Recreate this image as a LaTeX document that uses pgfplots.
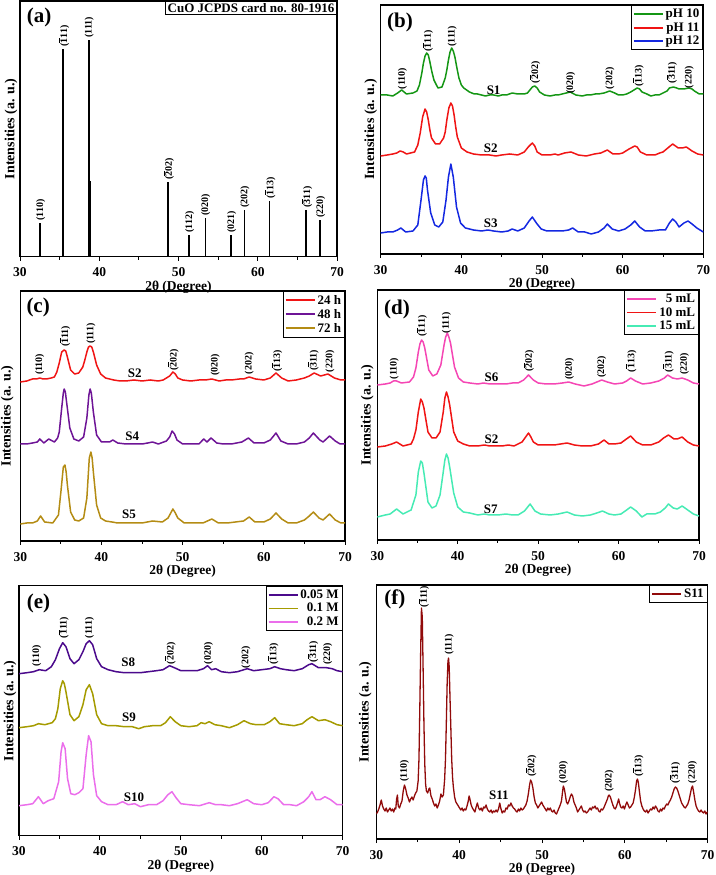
\documentclass[border=0pt]{standalone}
\usepackage{pgfplots}
\pgfplotsset{compat=1.18}
\usepackage{fontspec}
\setmainfont{Liberation Serif}

\definecolor{cgreen}{RGB}{20,150,20}
\definecolor{cred}{RGB}{240,20,20}
\definecolor{cblue}{RGB}{20,40,225}
\definecolor{cpurple}{RGB}{110,20,150}
\definecolor{cgold}{RGB}{180,140,20}
\definecolor{cpink}{RGB}{245,70,180}
\definecolor{cmint}{RGB}{70,235,180}
\definecolor{cindigo}{RGB}{75,10,140}
\definecolor{colive}{RGB}{165,155,0}
\definecolor{cviolet}{RGB}{235,110,235}
\definecolor{cdark}{RGB}{145,10,10}

\newcommand\tk{\fontsize{13.5}{15}\selectfont\bfseries}
\newcommand\lk{\fontsize{13}{15}\selectfont\bfseries}
\newcommand\pk{\fontsize{10}{12}\selectfont\bfseries}
\newcommand\ob[1]{$\overline{\mbox{#1}}$}
% peak label, sample label, panel letter
\newcommand\pl[3]{\node[rotate=90,anchor=west,inner sep=0pt,font=\pk] at (axis cs:#1,#2) {#3};}
\newcommand\slab[3]{\node[font=\lk,inner sep=0pt] at (axis cs:#1,#2) {#3};}
\newcommand\panel[3]{\node[font=\fontsize{21}{21}\selectfont\bfseries,inner sep=0pt] at (axis description cs:#1,#2) {#3};}

\pgfplotsset{
  xrd/.style={
    scale only axis, anchor=south west,
    xmin=30, xmax=70, ymin=0,
    xtick={30,40,50,60,70}, minor xtick={35,45,55,65},
    ytick=\empty, xtick pos=bottom, tick align=outside,
    major tick length=4pt, minor tick length=3pt,
    tick style={black, line width=0.9pt},
    axis line style={line width=1.1pt},
    /pgf/number format/assume math mode=true,
    xticklabel style={font=\tk, anchor=north, inner sep=0pt, yshift=-7pt},
    xlabel={2θ (Degree)}, ylabel={Intensities (a. u.)},
    xlabel style={font=\tk, at={(axis description cs:0.5,0)}, anchor=north, inner sep=0pt, yshift=-24pt},
    ylabel style={font=\fontsize{14}{15}\selectfont\bfseries, anchor=center, inner sep=0pt},
    legend style={at={(1,1)}, anchor=north east, draw=black, line width=1pt, font=\lk, inner sep=1.5pt, row sep=-0.5pt},
    legend cell align=right,
    legend image code/.code={\draw[##1, line width=1.8pt] (0pt,0pt) -- (29pt,0pt);},
    every axis plot/.append style={line width=1.5pt, line join=round},
  }
}

\begin{document}
\begin{tikzpicture}
\useasboundingbox (0,0) rectangle (715pt,875pt);

% (a) reference pattern
\begin{axis}[xrd, at={(20pt,618.3pt)}, width=317pt, height=255.7pt, ymax=255.7,
  ylabel style={at={(axis description cs:-0.028,0.5)}}]
\addplot[ycomb, black, line width=1.8pt] coordinates {(32.52,34)(35.46,208)(38.70,217)(38.9,76)(48.70,75)(51.34,22)(53.40,39)(56.64,22)(58.32,47)(61.47,56)(66.13,47)(67.90,37)};
\pl{32.6}{36}{(110)}
\pl{35.55}{210}{(\ob{1}11)}
\pl{38.75}{219}{(111)}
\pl{48.75}{77}{(\ob{2}02)}
\pl{51.4}{24}{(112)}
\pl{53.45}{41}{(020)}
\pl{56.7}{24}{(021)}
\pl{58.4}{49}{(202)}
\pl{61.55}{58}{(\ob{1}13)}
\pl{66.2}{49}{(\ob{3}11)}
\pl{67.95}{39}{(220)}
\node[draw, line width=1pt, font=\lk, anchor=north east, inner sep=2pt] at (rel axis cs:1,1) {CuO JCPDS card no. 80-1916};
\panel{0.06}{0.937}{(a)}
\end{axis}

% (b) pH
\begin{axis}[xrd, at={(380.7pt,621pt)}, width=322.6pt, height=249pt, ymax=249,
  ylabel style={at={(axis description cs:-0.031,0.5)}}]
\addplot[cgreen] coordinates {(30,159)(30.8,159)(31.5,158)(32.1,161)(32.6,164)(33.2,160)(34,161)(34.5,163)(34.8,169)(35.1,181)(35.3,191)(35.5,198)(35.7,201)(35.9,199)(36.1,192)(36.35,182)(36.6,174)(37.1,166)(37.6,167)(38,176)(38.2,184)(38.4,194)(38.6,202)(38.8,206)(39,203)(39.2,197)(39.45,186)(39.7,176)(40,169)(40.3,166)(41,162)(41.6,160)(42,160)(42.5,159)(43,158)(43.5,159)(44,159)(44.6,158)(45,159)(45.6,159)(46.3,161)(47,160)(47.8,160)(48.2,161)(48.5,164)(48.8,167)(49.1,168)(49.4,166)(49.7,162)(50.3,159)(51,158)(51.6,159)(52,159)(52.5,160)(53,161)(53.5,162)(54.2,159)(55,158)(55.5,159)(56,159)(56.6,160)(57,160)(57.7,161)(58.4,163)(59,161)(59.5,159)(60,159)(60.5,160)(61,162)(61.4,164)(61.8,166)(62.1,165)(62.4,162)(63,160)(63.5,158)(64,159)(64.5,159)(65,161)(65.5,163)(65.8,166)(66.3,167)(66.7,166)(67,165)(67.6,165)(68.2,166)(68.6,165)(68.9,163)(69.5,160)(70,160)};
\addplot[cred] coordinates {(30,98)(30.8,99)(31.5,100)(32,101)(32.4,103)(32.8,102)(33.2,100)(33.7,101)(34.2,102)(34.6,109)(34.9,121)(35.2,137)(35.5,145)(35.7,142)(35.9,134)(36.1,124)(36.3,116)(36.8,110)(37.3,110)(37.8,116)(38,122)(38.2,134)(38.45,146)(38.7,151)(38.9,148)(39.1,139)(39.3,127)(39.5,117)(40,106)(40.7,102)(41.5,100)(42.5,99)(43.5,99)(44.3,98)(45,99)(46,100)(47,99)(47.8,102)(48.3,107)(48.8,111)(49.1,108)(49.4,102)(50,99)(51,99)(51.6,100)(52,99)(52.8,101)(53.6,102)(54.5,99)(55.5,98)(56.5,100)(57.3,101)(58.1,104)(58.8,100)(59.5,100)(60,101)(60.8,105)(61.5,108)(61.8,107)(62.2,102)(63,99)(64,99)(64.6,101)(65,102)(65.6,106)(66.2,110)(66.9,106)(67.4,106)(67.9,107)(68.6,103)(69.3,100)(70,99)};
\addplot[cblue] coordinates {(30,21)(30.8,22)(31.5,22)(32.1,24)(32.5,26)(33.1,22)(34,23)(34.6,29)(35,54)(35.3,74)(35.5,78)(35.65,76)(35.8,64)(36.2,41)(36.7,29)(37.2,27)(37.7,32)(38.1,54)(38.4,77)(38.7,90)(39,77)(39.4,47)(39.9,31)(40.5,26)(41.5,24)(42.5,23)(43.3,24)(44,23)(45,22)(45.8,23)(46.3,25)(47,23)(47.8,26)(48.4,33)(48.8,37)(49.3,31)(49.9,25)(50.6,23)(51.5,23)(52.5,23)(53.3,24)(53.8,26)(54.5,22)(55.3,22)(56.1,20)(57,22)(57.7,26)(58.1,30)(58.7,25)(59.5,23)(60.3,25)(61,29)(61.5,33)(62.1,27)(62.8,23)(63.5,23)(64.5,24)(65.3,24)(65.8,31)(66.2,35)(66.6,32)(67,27)(67.6,31)(68.1,33)(68.6,30)(69.2,26)(70,22)};
\legend{pH 10, pH 11, pH 12}
\pl{32.7}{164.7}{(110)}
\pl{35.83}{202.3}{(\ob{1}11)}
\pl{38.88}{207.3}{(111)}
\pl{49.13}{170.7}{(\ob{2}02)}
\pl{53.55}{160}{(020)}
\pl{58.43}{164.7}{(202)}
\pl{61.94}{167.3}{(\ob{1}13)}
\pl{66.07}{170.7}{(\ob{3}11)}
\pl{68.26}{165.7}{(220)}
\slab{44.0}{163.5}{S1}
\slab{43.64}{105.7}{S2}
\slab{43.64}{30.7}{S3}
\panel{0.06}{0.93}{(b)}
\end{axis}

% (c) time
\begin{axis}[xrd, at={(20.3pt,334pt)}, width=324.7pt, height=250pt, ymax=250,
  ylabel style={at={(axis description cs:-0.04,0.5)}}]
\addplot[cred] coordinates {(30,159)(30.8,160)(31.5,162)(32,162)(32.4,163)(32.8,162)(33.2,162)(33.8,163)(34.2,164)(34.5,169)(34.8,178)(35.1,189)(35.4,191)(35.6,190)(35.8,184)(36.2,171)(36.7,167)(37.2,168)(37.7,174)(37.95,181)(38.2,189)(38.4,194)(38.6,195)(38.8,194)(39,189)(39.4,176)(39.9,167)(40.5,163)(41.5,161)(42.3,160)(43,160)(44,161)(45,160)(46,161)(47,160)(47.6,161)(48,163)(48.4,165)(48.8,169)(49.1,167)(49.4,163)(50,161)(51,160)(52,161)(52.8,161)(53.6,162)(54.5,160)(55.3,161)(56,161)(57,162)(57.5,162)(58.2,164)(59,162)(60,161)(60.8,163)(61.5,168)(62.2,163)(63,160)(64,161)(65,163)(65.6,165)(66.2,168)(67,165)(67.9,167)(68.7,163)(69.5,161)(70,161)};
\addplot[cpurple] coordinates {(30,97)(30.8,97)(31.5,98)(32.1,99)(32.4,102)(32.9,98)(33.5,102)(34.2,99)(34.6,103)(34.8,109)(35.1,133)(35.3,148)(35.4,152)(35.55,149)(35.7,139)(36.1,113)(36.6,102)(37.2,100)(37.8,104)(38.2,123)(38.45,146)(38.6,152)(38.75,148)(39,129)(39.4,106)(40,99)(41,99)(41.4,101)(42,98)(43,97)(44,97)(45,97)(45.7,98)(46.3,99)(47,97)(48,100)(48.4,104)(48.7,110)(49,107)(49.3,101)(50,97)(51,97)(52,97)(52.6,102)(53,99)(53.5,103)(54.2,98)(55,97)(56,97)(57.3,99)(58.1,103)(58.8,98)(60,98)(60.8,101)(61.5,108)(62.1,100)(63,97)(64,97)(65,99)(65.6,103)(66.1,108)(66.9,101)(67.3,99)(68.1,105)(68.8,100)(69.4,97)(70,97)};
\addplot[cgold] coordinates {(30,17)(30.8,18)(31.5,18)(32.1,20)(32.5,25)(33,19)(34,18)(34.7,26)(35,49)(35.3,74)(35.5,76)(35.65,69)(35.8,56)(36.2,29)(36.7,21)(37.2,20)(37.8,23)(38.2,43)(38.5,83)(38.7,89)(38.85,83)(39,69)(39.4,36)(39.9,23)(40.5,20)(41.3,19)(42,18)(43,18)(44,18)(45,18)(46.3,20)(47.5,19)(48.2,23)(48.8,32)(49.1,28)(49.4,23)(50.2,18)(51,18)(52.5,18)(53.6,22)(54.4,18)(55.5,18)(56.5,19)(57.5,20)(58.2,24)(58.9,19)(60,19)(60.8,22)(61.5,28)(62.2,22)(63,18)(64,18)(65,21)(65.6,25)(66.1,29)(66.8,23)(67.3,21)(68.1,27)(68.8,21)(69.5,18)(70,18)};
\legend{24 h, 48 h, 72 h}
\pl{32.4}{166}{(110)}
\pl{35.5}{194}{(\ob{1}11)}
\pl{38.7}{197}{(111)}
\pl{48.85}{170}{(\ob{2}02)}
\pl{54.0}{165.3}{(020)}
\pl{58.2}{166.7}{(202)}
\pl{61.6}{169.3}{(\ob{1}13)}
\pl{66.1}{170}{(\ob{3}11)}
\pl{68.15}{168.7}{(220)}
\slab{44.1}{167.7}{S2}
\slab{43.8}{104.3}{S4}
\slab{43.4}{26.7}{S5}
\panel{0.055}{0.935}{(c)}
\end{axis}

% (d) volume
\begin{axis}[xrd, at={(377.3pt,335pt)}, width=321.7pt, height=250pt, ymax=250,
  ylabel style={at={(axis description cs:-0.031,0.5)}}]
\addplot[cpink] coordinates {(30,155)(31,156)(31.6,157)(32,159)(32.4,159)(33,157)(34,158)(34.5,163)(34.8,172)(35.1,188)(35.3,196)(35.5,200)(35.7,198)(35.9,192)(36.4,170)(36.9,164)(37.4,166)(37.9,175)(38.3,195)(38.5,203)(38.7,207)(38.9,203)(39.1,197)(39.6,173)(40.1,162)(40.7,158)(41.5,157)(42.5,156)(43.2,157)(44,156)(45,156)(46,156)(46.8,157)(47.5,157)(48.2,160)(48.8,165)(49.4,160)(50,157)(51,156)(52,156)(53,157)(53.8,158)(54.6,156)(55.7,154)(56.7,156)(57.3,158)(57.9,160)(58.6,158)(59.5,156)(60.5,157)(61,159)(61.5,162)(62.1,159)(63,156)(64,157)(65,159)(65.7,162)(66.1,165)(66.7,162)(67.3,161)(67.9,162)(68.6,160)(69.3,157)(70,156)};
\addplot[cred] coordinates {(30,93)(31,94)(31.8,96)(32.4,98)(33.2,94)(34.2,96)(34.5,101)(34.8,110)(35.1,128)(35.4,141)(35.6,138)(35.8,132)(36.3,108)(36.8,102)(37.3,102)(37.8,108)(38.2,128)(38.4,142)(38.6,148)(38.8,143)(39,135)(39.5,108)(40,99)(40.7,96)(41.5,94)(42.5,94)(43.3,95)(44,94)(45.5,94)(46.3,95)(47,94)(48,98)(48.8,107)(49.1,103)(49.4,98)(50,95)(51,95)(52,95)(52.8,96)(53.6,97)(54.5,95)(55.5,94)(56.5,94)(57.5,96)(58.2,100)(58.8,96)(59.5,96)(60.3,97)(60.8,100)(61.5,104)(62.2,98)(63,95)(64,95)(65,98)(65.6,102)(66.2,105)(66.9,101)(67.3,101)(67.9,103)(68.6,98)(69.3,95)(70,94)};
\addplot[cmint] coordinates {(30,23)(31,25)(31.6,26)(32.4,31)(33.2,26)(34.2,30)(34.8,45)(35.1,68)(35.4,79)(35.6,77)(35.8,67)(36.3,38)(36.8,32)(37.3,34)(37.8,45)(38.2,68)(38.4,80)(38.6,86)(38.8,82)(39,73)(39.5,47)(40,33)(40.7,28)(41.5,27)(42.5,25)(43.3,26)(44,25)(45,25)(46,26)(46.8,25)(47.5,25)(48.3,29)(49,36)(49.6,29)(50.3,26)(51.5,25)(52.5,26)(53.6,28)(54.5,25)(55.5,24)(56.5,25)(57.3,27)(58,29)(58.8,26)(59.5,25)(60.3,26)(61,30)(61.5,33)(62.2,29)(62.9,23)(63.5,26)(64.5,26)(65.2,28)(65.8,32)(66.2,36)(66.8,32)(67.3,31)(67.9,34)(68.6,30)(69.3,26)(70,24)};
\legend{5 mL, 10 mL, 15 mL}
\pl{32.1}{160.7}{(110)}
\pl{35.5}{203.3}{(\ob{1}11)}
\pl{38.6}{206.7}{(111)}
\pl{48.8}{168.3}{(\ob{2}02)}
\pl{53.9}{160}{(020)}
\pl{57.9}{162.3}{(202)}
\pl{61.55}{167.7}{(\ob{1}13)}
\pl{66.2}{167.7}{(\ob{3}11)}
\pl{68.2}{165}{(220)}
\slab{44.2}{162.7}{S6}
\slab{44.2}{101}{S2}
\slab{44.1}{30.7}{S7}
\panel{0.061}{0.924}{(d)}
\end{axis}

% (e) concentration
\begin{axis}[xrd, at={(19pt,39.3pt)}, width=323.7pt, height=250pt, ymax=250,
  ylabel style={at={(axis description cs:-0.028,0.5)}}]
\addplot[cindigo] coordinates {(30,162)(31,163)(31.8,164)(32.5,166)(33.3,165)(34,169)(34.5,176)(35,187)(35.4,193)(35.8,189)(36.3,177)(36.8,172)(37.4,176)(37.9,184)(38.3,192)(38.7,195)(39.1,191)(39.6,177)(40.2,169)(41,166)(42,164)(43,163)(44,163)(45,163)(46,164)(47,165)(47.8,166)(48.6,170)(49.2,168)(50,165)(51,165)(52,165)(52.8,167)(53.3,170)(53.8,166)(54.3,167)(55,164)(56,163)(57,164)(58.2,167)(59,165)(60,166)(61,167)(61.6,169)(62.3,167)(63,166)(64,165)(65,167)(65.8,171)(66.2,172)(67,168)(68,168)(68.7,167)(69.3,165)(70,164)};
\addplot[colive] coordinates {(30,108)(31,109)(31.8,110)(32.4,112)(33.2,111)(34.1,113)(34.5,117)(34.8,127)(35.1,147)(35.4,155)(35.6,152)(35.8,144)(36.3,121)(36.8,115)(37.4,119)(37.9,131)(38.3,146)(38.7,151)(39.1,142)(39.6,121)(40.2,112)(41,110)(42,110)(43,109)(44,109)(44.8,107)(45.5,109)(46.5,110)(47.5,110)(48.1,113)(48.7,119)(49.3,114)(50,110)(51,109)(52,110)(52.5,113)(53,112)(53.5,114)(54.2,111)(55,110)(56,108)(57,111)(57.8,115)(58.6,112)(59.3,111)(60.3,111)(61,114)(61.6,118)(62.2,112)(63,111)(64,110)(65,112)(65.6,116)(66.2,119)(67,115)(67.8,116)(68.5,114)(69.3,111)(70,110)};
\addplot[cviolet] coordinates {(30,30)(31,31)(31.7,32)(32.4,39)(33,32)(33.6,35)(34.3,37)(34.9,54)(35.2,84)(35.4,93)(35.7,87)(36,57)(36.4,42)(36.9,41)(37.4,43)(37.9,47)(38.3,81)(38.6,100)(38.9,94)(39.2,61)(39.6,40)(40.2,34)(41,31)(42,31)(42.8,34)(43.5,31)(44.3,32)(45,29)(46,31)(47,31)(47.8,35)(48.4,41)(48.9,44)(49.4,38)(50,32)(51,31)(52.3,30)(53.5,33)(54.3,31)(55,31)(56,30)(57,32)(58.2,36)(59,32)(60,31)(60.8,33)(61.5,39)(62,37)(62.7,31)(63.5,31)(64.3,30)(65.2,34)(65.8,39)(66.2,44)(66.7,36)(67.2,36)(67.8,39)(68.5,36)(69.3,31)(70,31)};
\legend{0.05 M, 0.1 M, 0.2 M}
\pl{32.2}{169}{(110)}
\pl{35.5}{197.3}{(\ob{1}11)}
\pl{38.7}{197.3}{(111)}
\pl{48.7}{171.3}{(\ob{2}02)}
\pl{53.4}{171.3}{(020)}
\pl{58.05}{167.3}{(202)}
\pl{61.4}{170.7}{(\ob{1}13)}
\pl{66.3}{173.3}{(\ob{3}11)}
\pl{68.15}{170.7}{(220)}
\slab{43.5}{173}{S8}
\slab{43.6}{118}{S9}
\slab{44.2}{38}{S10}
\panel{0.06}{0.93}{(e)}
\end{axis}

% (f) S11
\begin{axis}[xrd, at={(376.3pt,36pt)}, width=331.4pt, height=254pt, ymax=254,
  ylabel style={at={(axis description cs:-0.033,0.5)}}]
\addplot[cdark, line width=1.3pt] coordinates {(30.0,25)(30.15,27)(30.3,30)(30.45,34)(30.6,39)(30.75,33)(30.9,30)(31.05,28)(31.2,31)(31.35,27)(31.5,29)(31.65,31)(31.8,28)(31.95,30)(32.1,27)(32.25,31)(32.35,30)(32.45,40)(32.55,44)(32.65,33)(32.8,31)(32.95,35)(33.1,38)(33.25,48)(33.4,54)(33.55,50)(33.7,44)(33.85,41)(34.0,37)(34.15,40)(34.3,42)(34.45,39)(34.6,43)(34.75,46)(34.9,48)(35.05,58)(35.15,80)(35.25,130)(35.35,185)(35.45,231)(35.55,222)(35.65,170)(35.75,115)(35.85,75)(35.95,55)(36.05,48)(36.2,46)(36.35,50)(36.45,51)(36.6,43)(36.75,40)(36.9,36)(37.05,33)(37.2,35)(37.35,31)(37.5,34)(37.65,38)(37.8,45)(37.95,42)(38.1,44)(38.25,60)(38.35,80)(38.45,115)(38.55,155)(38.65,178)(38.72,181)(38.8,172)(38.9,140)(39.0,110)(39.1,80)(39.2,62)(39.3,52)(39.45,42)(39.6,37)(39.75,35)(39.9,33)(40.05,31)(40.2,29)(40.35,31)(40.5,28)(40.65,30)(40.8,29)(40.95,33)(41.1,38)(41.2,43)(41.3,40)(41.45,34)(41.6,31)(41.75,29)(41.9,27)(42.05,32)(42.2,36)(42.35,31)(42.5,29)(42.65,31)(42.8,28)(42.95,32)(43.1,31)(43.25,34)(43.4,30)(43.55,28)(43.7,27)(43.85,29)(44.0,26)(44.15,28)(44.3,27)(44.45,29)(44.6,27)(44.75,30)(44.9,36)(45.05,30)(45.2,26)(45.35,28)(45.5,27)(45.65,31)(45.8,30)(45.95,34)(46.1,33)(46.25,36)(46.4,33)(46.55,31)(46.7,30)(46.85,28)(47.0,27)(47.15,30)(47.3,28)(47.45,31)(47.6,29)(47.75,30)(47.9,32)(48.05,34)(48.2,38)(48.35,45)(48.5,54)(48.62,59)(48.75,57)(48.9,51)(49.05,42)(49.2,36)(49.35,34)(49.5,31)(49.65,33)(49.8,35)(49.95,37)(50.1,34)(50.25,32)(50.4,30)(50.55,28)(50.7,31)(50.85,29)(51.0,31)(51.15,28)(51.3,27)(51.45,29)(51.6,26)(51.75,25)(51.9,28)(52.05,31)(52.2,34)(52.35,38)(52.45,45)(52.57,53)(52.7,50)(52.8,45)(52.95,37)(53.1,35)(53.25,38)(53.4,42)(53.55,45)(53.7,43)(53.85,37)(54.0,34)(54.15,31)(54.3,27)(54.45,29)(54.6,31)(54.75,33)(54.9,29)(55.05,27)(55.2,28)(55.35,26)(55.5,27)(55.65,29)(55.8,31)(55.95,29)(56.1,32)(56.25,31)(56.4,33)(56.55,30)(56.7,31)(56.85,28)(57.0,27)(57.15,30)(57.3,29)(57.45,31)(57.6,34)(57.75,37)(57.9,40)(58.0,43)(58.1,44)(58.25,42)(58.4,38)(58.55,34)(58.7,31)(58.85,30)(59.0,33)(59.15,37)(59.25,40)(59.35,36)(59.5,32)(59.65,31)(59.8,33)(59.95,30)(60.1,34)(60.25,37)(60.4,34)(60.55,31)(60.7,32)(60.85,34)(61.0,36)(61.15,42)(61.3,50)(61.42,58)(61.52,60)(61.62,57)(61.75,48)(61.9,38)(62.05,33)(62.2,30)(62.35,28)(62.5,27)(62.65,29)(62.8,26)(62.95,28)(63.1,30)(63.25,29)(63.4,32)(63.55,30)(63.7,33)(63.85,31)(64.0,28)(64.15,27)(64.3,30)(64.45,28)(64.6,31)(64.75,30)(64.9,33)(65.05,35)(65.2,34)(65.35,37)(65.5,39)(65.65,42)(65.8,46)(65.95,50)(66.1,52)(66.25,51)(66.4,48)(66.55,44)(66.7,40)(66.85,36)(67.0,34)(67.15,32)(67.3,31)(67.45,33)(67.6,35)(67.75,39)(67.9,45)(68.05,51)(68.17,53)(68.3,47)(68.45,39)(68.6,33)(68.75,30)(68.9,28)(69.05,27)(69.2,29)(69.35,27)(69.5,26)(69.65,28)(69.8,25)(69.95,27)(70.0,26)};
\legend{S11}
\pl{33.4}{57.3}{(110)}
\pl{35.7}{231.7}{(\ob{1}11)}
\pl{38.8}{184}{(111)}
\pl{48.7}{62.3}{(\ob{2}02)}
\pl{52.6}{55.7}{(020)}
\pl{58.1}{47.3}{(202)}
\pl{61.6}{62.3}{(\ob{1}13)}
\pl{66.05}{55.7}{(\ob{3}11)}
\pl{68.15}{55.7}{(220)}
\slab{44.8}{43.3}{S11}
\panel{0.056}{0.945}{(f)}
\end{axis}
\end{tikzpicture}
\end{document}
